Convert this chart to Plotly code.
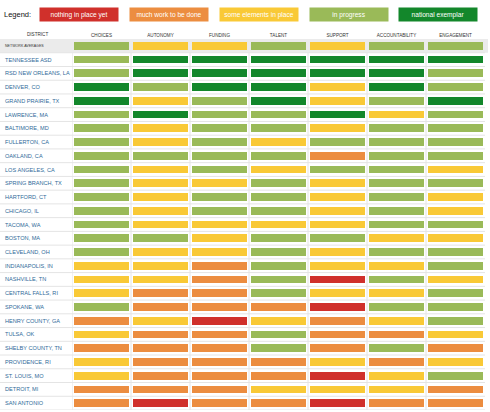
import plotly.graph_objects as go

# ---------------------------------------------
# data
# ---------------------------------------------
districts = [
    "NETWORK AVERAGES", "TENNESSEE ASD", "RSD NEW ORLEANS, LA", "DENVER, CO",
    "GRAND PRAIRIE, TX", "LAWRENCE, MA", "BALTIMORE, MD", "FULLERTON, CA",
    "OAKLAND, CA", "LOS ANGELES, CA", "SPRING BRANCH, TX", "HARTFORD, CT",
    "CHICAGO, IL", "TACOMA, WA", "BOSTON, MA", "CLEVELAND, OH",
    "INDIANAPOLIS, IN", "NASHVILLE, TN", "CENTRAL FALLS, RI", "SPOKANE, WA",
    "HENRY COUNTY, GA", "TULSA, OK", "SHELBY COUNTY, TN", "PROVIDENCE, RI",
    "ST. LOUIS, MO", "DETROIT, MI", "SAN ANTONIO",
]
categories = ["CHOICES", "AUTONOMY", "FUNDING", "TALENT", "SUPPORT",
              "ACCOUNTABILITY", "ENGAGEMENT"]

# 0 nothing in place yet .. 4 national exemplar
choices        = [3, 3, 3, 4, 4, 3, 3, 3, 3, 3, 3, 3, 3, 3, 3, 3, 2, 2, 2, 3, 1, 2, 1, 2, 2, 1, 1]
autonomy       = [2, 4, 4, 3, 2, 4, 2, 2, 3, 2, 2, 2, 2, 2, 3, 2, 2, 2, 1, 1, 2, 1, 1, 1, 1, 1, 0]
funding        = [2, 4, 4, 4, 3, 3, 3, 3, 3, 3, 2, 3, 3, 2, 2, 2, 1, 1, 1, 1, 0, 1, 1, 1, 1, 1, 1]
talent         = [3, 4, 4, 4, 4, 3, 3, 2, 3, 2, 3, 3, 3, 2, 3, 3, 3, 3, 3, 1, 2, 3, 3, 1, 1, 2, 1]
support        = [2, 4, 4, 2, 2, 4, 2, 3, 1, 3, 2, 2, 2, 2, 3, 2, 2, 0, 2, 0, 1, 1, 1, 2, 0, 2, 0]
accountability = [3, 4, 4, 4, 3, 2, 3, 3, 3, 3, 3, 3, 3, 3, 2, 3, 2, 3, 2, 3, 2, 1, 3, 1, 2, 2, 1]
engagement     = [3, 4, 3, 3, 4, 3, 3, 3, 3, 2, 3, 2, 2, 3, 2, 3, 3, 2, 3, 3, 3, 2, 1, 2, 3, 1, 1]

levels = ["nothing in place yet", "much work to be done", "some elements in place",
          "in progress", "national exemplar"]
level_colors = ["#d0302b", "#ec8d40", "#f9c936", "#9aba58", "#13872b"]

# ---------------------------------------------
# figure
# ---------------------------------------------
W, H = 490, 412
ml, mr, mt, mb = 72, 5, 39, 2
pw = W - ml - mr
ph = H - mt - mb
font_main = "Liberation Sans, Arial, sans-serif"

cols = [choices, autonomy, funding, talent, support, accountability, engagement]
z = [[c[i] for c in cols] for i in range(len(districts))]

# discrete colorscale
n = len(level_colors)
cs = []
for k, col in enumerate(level_colors):
    cs.append([k / n, col])
    cs.append([(k + 1) / n, col])

trace = go.Heatmap(
    z=z, x=categories, y=districts,
    colorscale=cs, zmin=-0.5, zmax=n - 0.5,
    showscale=False, xgap=4, ygap=6,
    hovertemplate="%{y}<br>%{x}<extra></extra>",
)

shapes = []
x_left = -ml / pw
# network averages gray band
shapes.append(dict(type="rect", xref="paper", yref="y", layer="below",
                   x0=x_left, x1=1 + 3 / pw, y0=-0.5, y1=0.5,
                   fillcolor="#ebebeb", line=dict(width=0)))
# row separators
for i in range(1, len(districts) + 1):
    shapes.append(dict(type="line", xref="paper", yref="y", layer="below",
                       x0=x_left, x1=1, y0=i - 0.5, y1=i - 0.5,
                       line=dict(color="#e4e4e4", width=1)))
# column separators
for k in range(len(categories)):
    shapes.append(dict(type="line", xref="x", yref="y", layer="below",
                       x0=k - 0.5, x1=k - 0.5, y0=0.5, y1=len(districts) - 0.5,
                       line=dict(color="#e4e4e4", width=1)))

annotations = []
# district labels
for i, d in enumerate(districts):
    first = i == 0
    annotations.append(dict(
        text=d, xref="paper", yref="y", x=x_left + 3 / pw, y=i,
        xanchor="left", yanchor="middle", showarrow=False,
        font=dict(family=font_main, size=3.6 if first else 5.6,
                  color="#333333" if first else "#2f6a99"),
    ))
annotations.append(dict(
    text="DISTRICT", xref="paper", yref="paper", x=x_left + 37 / pw, y=1,
    yshift=5, xanchor="center", yanchor="middle", showarrow=False,
    font=dict(family=font_main, size=4.6, color="#333333"),
))
# legend
leg_y = (H - mb - 14.5) / ph
annotations.append(dict(
    text="Legend:", xref="paper", yref="paper", x=x_left + 2 / pw, y=leg_y,
    xanchor="left", yanchor="middle", showarrow=False,
    font=dict(family=font_main, size=7.5, color="#111111"),
))
leg_x = [39, 129, 219, 309, 398]
for lx, lab, col in zip(leg_x, levels, level_colors):
    annotations.append(dict(
        text=lab, xref="paper", yref="paper", x=(lx + 40 - ml) / pw, y=leg_y,
        xanchor="center", yanchor="middle", showarrow=False,
        width=78, height=13, bgcolor=col, borderpad=0,
        font=dict(family=font_main, size=6.6, color="white"),
    ))

fig = go.Figure(data=[trace])
fig.update_layout(
    width=W, height=H, margin=dict(l=ml, r=mr, t=mt, b=mb),
    paper_bgcolor="white", plot_bgcolor="white",
    shapes=shapes, annotations=annotations, showlegend=False,
    xaxis=dict(side="top", showgrid=False, zeroline=False, ticks="",
               range=[-0.5, len(categories) - 0.5], fixedrange=True,
               tickfont=dict(family=font_main, size=4.6, color="#333333"),
               ticklabelstandoff=0),
    yaxis=dict(showticklabels=False, showgrid=False, zeroline=False, ticks="",
               range=[len(districts) - 0.5, -0.5], fixedrange=True),
)
# page margin off so the 490x412 figure fills the window exactly
fig.write_html("out.html", config={"displayModeBar": False},
               post_script="document.body.style.margin='0';")
